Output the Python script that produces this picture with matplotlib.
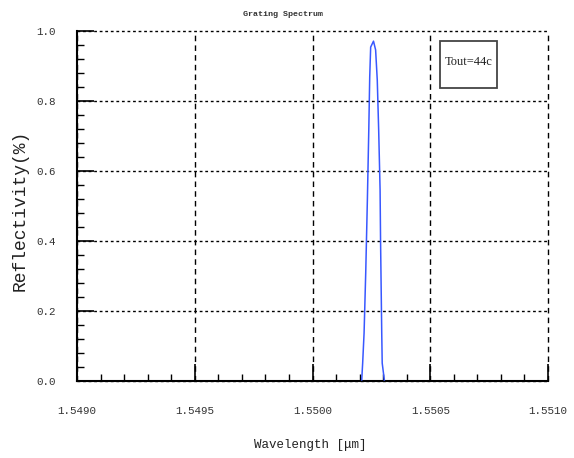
import matplotlib
matplotlib.use("Agg")
import matplotlib.pyplot as plt
from matplotlib.ticker import FormatStrFormatter, AutoMinorLocator
from matplotlib.patches import Rectangle

# Data
wavelength = [1.550209, 1.550213, 1.550219, 1.550226, 1.550233, 1.550239,
              1.550243, 1.550247, 1.550259, 1.550268, 1.550275, 1.550281, 1.550287,
              1.550289, 1.550294, 1.550296, 1.550305]
reflectivity = [0.003, 0.051, 0.137, 0.309, 0.517, 0.717,
                0.869, 0.954, 0.971, 0.946, 0.860, 0.717, 0.546,
                0.400, 0.137, 0.051, 0.003]
x_ticks = [1.5490, 1.5495, 1.5500, 1.5505, 1.5510]
y_ticks = [0.0, 0.2, 0.4, 0.6, 0.8, 1.0]
title = "Grating Spectrum"
annotation = "Tout=44c"
xlabel = "Wavelength [\u03bcm]"
ylabel = "Reflectivity(%)"

mono = "Liberation Mono"
W, H = 574, 458

fig = plt.figure(figsize=(5.74, 4.58), dpi=100)
ax = fig.add_axes([77/W, 1-381/H, (548-77)/W, (381-31)/H])

ax.plot(wavelength, reflectivity, color="#3858ff", lw=1.1, zorder=3)

ax.set_xlim(1.5490, 1.5510)
ax.set_ylim(0.0, 1.0)
ax.set_xticks(x_ticks)
ax.set_yticks(y_ticks)
ax.xaxis.set_major_formatter(FormatStrFormatter("%.4f"))
ax.yaxis.set_major_formatter(FormatStrFormatter("%.1f"))
ax.xaxis.set_minor_locator(AutoMinorLocator(5))
ax.yaxis.set_minor_locator(AutoMinorLocator(5))

ax.tick_params(axis="both", which="major", direction="in", length=12, width=1.2,
               labelsize=7.8, colors="black")
ax.tick_params(axis="both", which="minor", direction="in", length=5, width=1.0)
ax.tick_params(axis="x", which="major", pad=18)
ax.tick_params(axis="y", which="major", pad=15)
for lab in ax.get_xticklabels() + ax.get_yticklabels():
    lab.set_family(mono)
    lab.set_color("#333333")

for s in ["top", "right"]:
    ax.spines[s].set_visible(False)
for s in ["left", "bottom"]:
    ax.spines[s].set_linewidth(1.5)

# grid: horizontal dotted, vertical dashed
ax.yaxis.grid(True, which="major", color="black", lw=1.0, linestyle=(0, (2, 2)))
ax.xaxis.grid(True, which="major", color="black", lw=1.0, linestyle=(0, (4, 3)))
ax.set_axisbelow(True)
for gl in ax.get_ygridlines() + ax.get_xgridlines():
    gl.set_clip_on(False)

fig.text(310/W, 1-445/H, xlabel, family=mono, fontsize=9, color="#222222",
         ha="center", va="center")
fig.text(20/W, 1-210/H, ylabel, family=mono, fontsize=13, color="#222222",
         ha="center", va="center", rotation=90)

fig.text(283/W, 1-14/H, title, family=mono, fontsize=6, fontweight="bold",
         color="#333333", ha="center", va="center")

# annotation box
x0 = (440-77)/471
w = (497-440)/471
y0 = (381-88)/350
h = (88-41)/350
ax.add_patch(Rectangle((x0, y0), w, h, transform=ax.transAxes, fill=True,
                       facecolor="white", edgecolor="#444444", lw=1.3, zorder=4))
ax.text(x0 + w/2, 1-(62-31)/350, annotation, transform=ax.transAxes, ha="center",
        va="center", fontsize=9, family="Liberation Serif",
        color="#222222", zorder=5)

fig.savefig("out.png", dpi=100)
